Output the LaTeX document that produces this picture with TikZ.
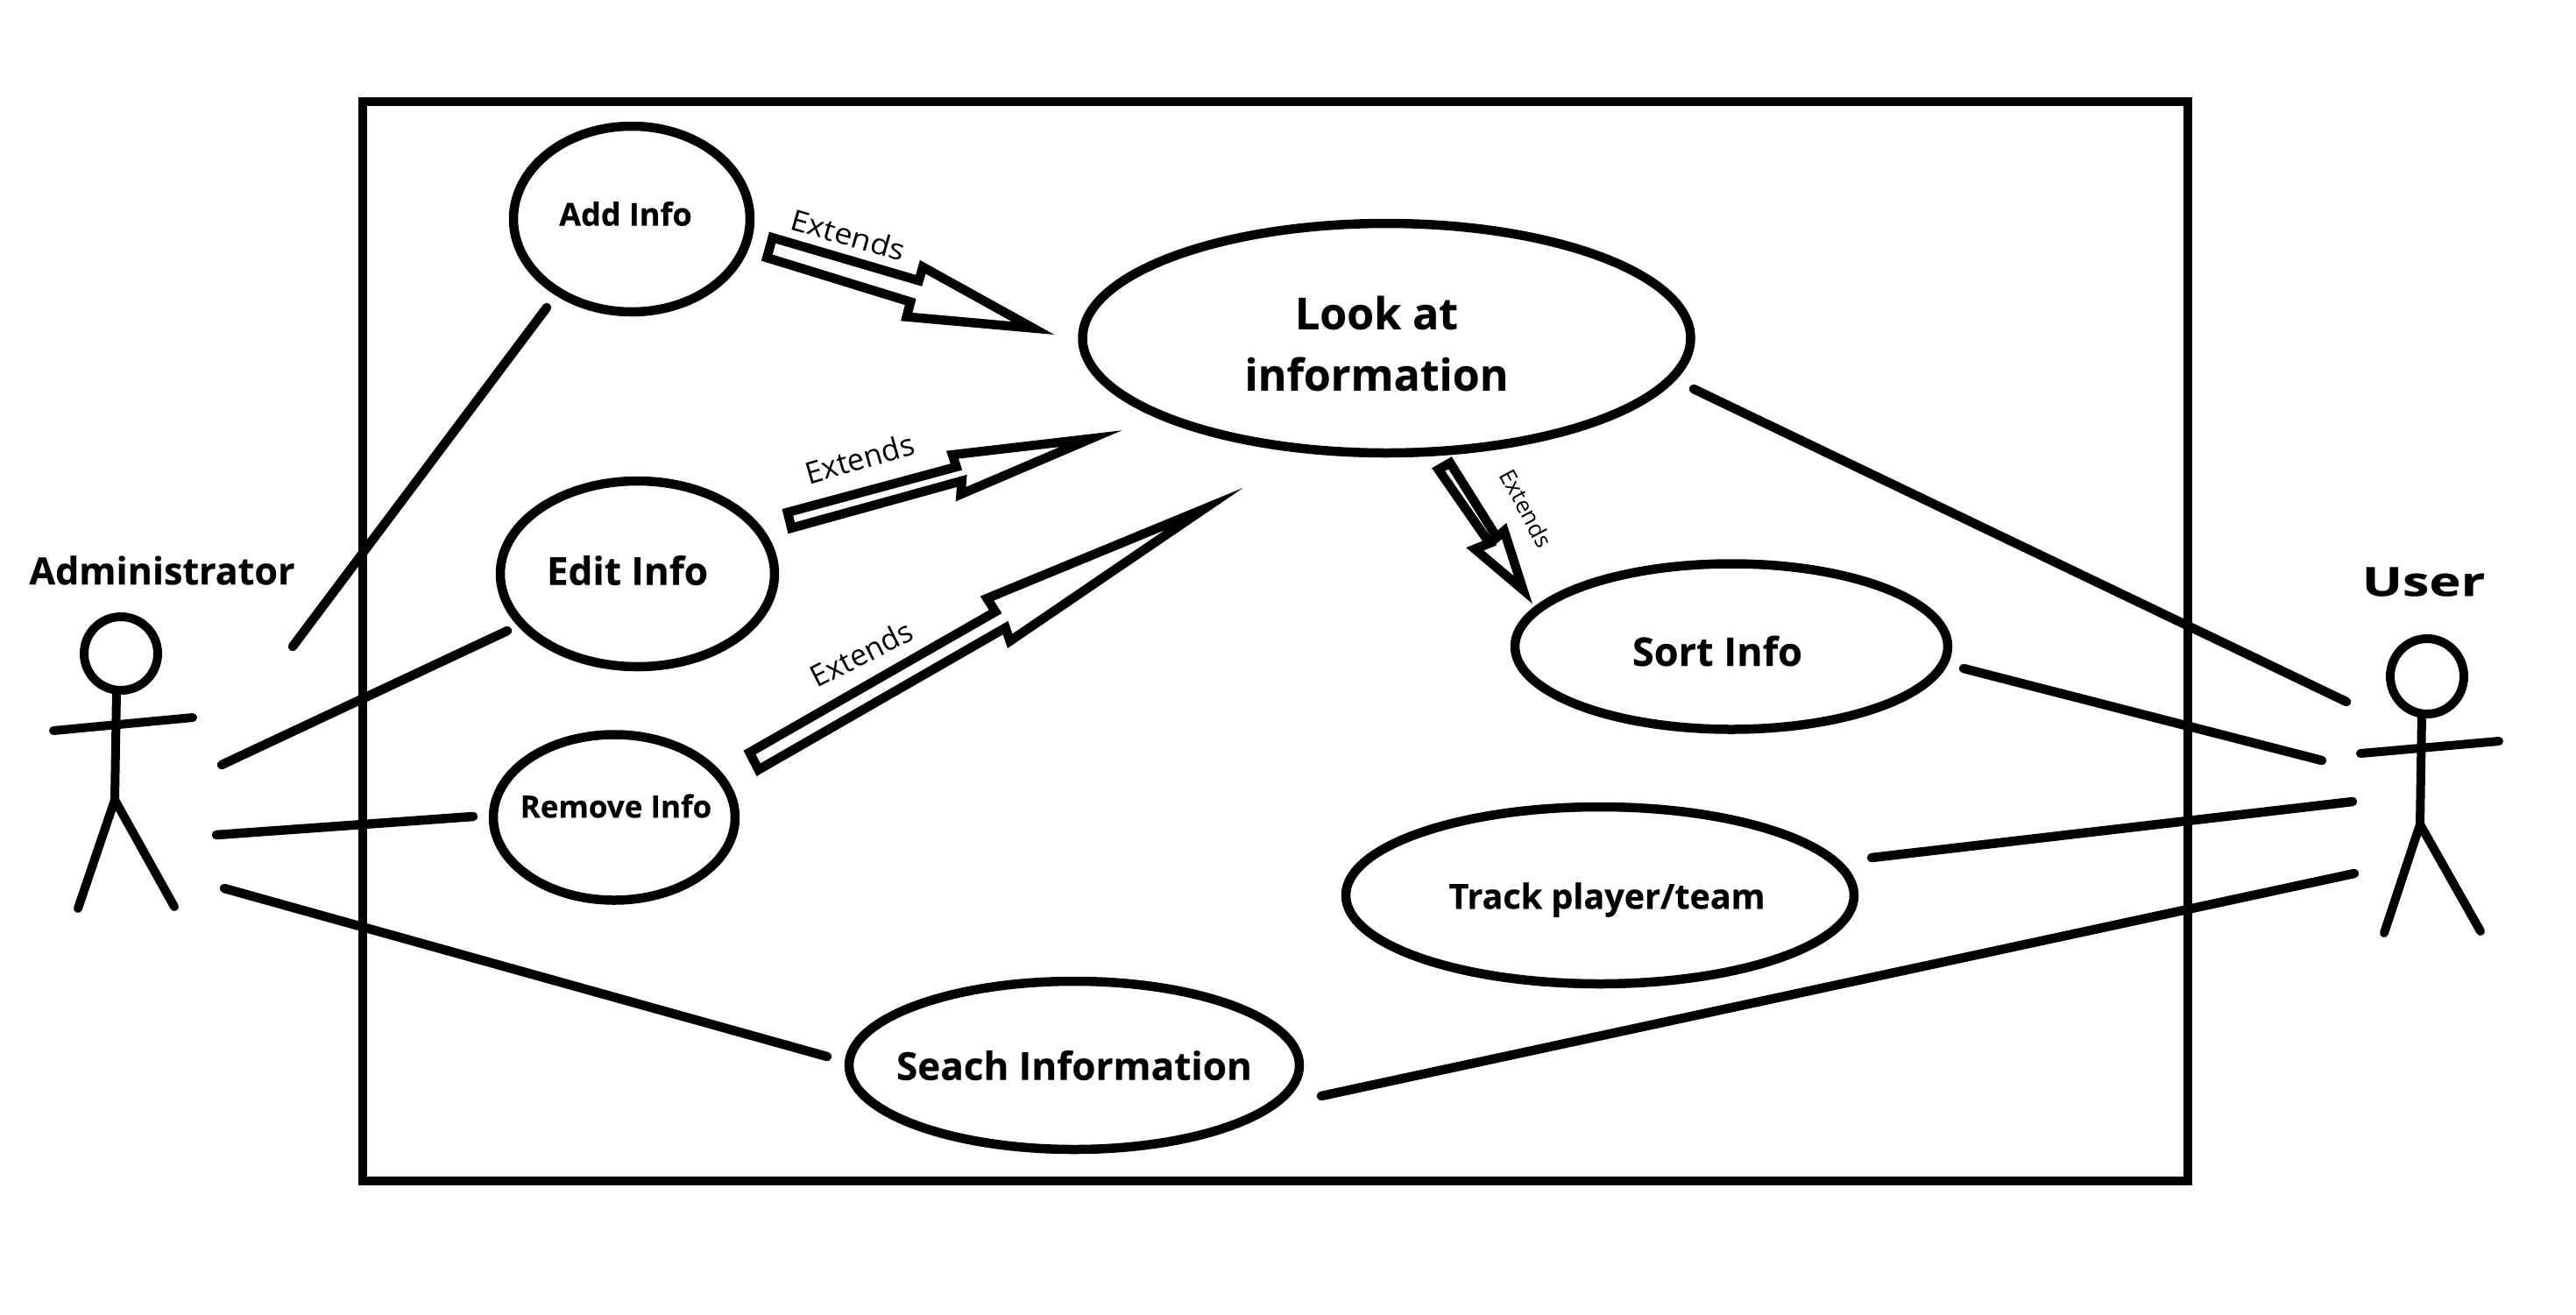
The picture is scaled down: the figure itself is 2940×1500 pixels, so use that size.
\documentclass[tikz,border=0pt]{standalone}
\usepackage{fontspec}
\usepackage{graphicx}
\setmainfont[BoldFeatures={FakeBold=0.35}]{Open Sans}
\usetikzlibrary{shapes.geometric}
\tikzset{
  x=1pt,y=-1pt,
  usecase/.style={draw=black,line width=10.5pt,ellipse,inner sep=0pt,fill=white},
  assoc/.style={draw=black,line width=10.5pt,line cap=round},
  limb/.style={draw=black,line width=10pt,line cap=round},
  blockarrow/.style={draw=black,line width=10.5pt,fill=white,line join=miter,miter limit=20},
  frame/.style={draw=black,line width=10pt},
  lbl/.style={inner sep=0pt,font=\bfseries\fontsize{#1}{#1}\selectfont,align=center},
  ext/.style={inner sep=0pt,font=\fontsize{#1}{#1}\selectfont}
}
\begin{document}
\begin{tikzpicture}
\useasboundingbox (0,0) rectangle (2940,1500);
\fill[white] (0,0) rectangle (2940,1500);
\draw[frame] (414,116) rectangle (2497,1348);
% use cases
\node[usecase,minimum width=270pt,minimum height=212pt] (add) at (721,250) {};
\node[usecase,minimum width=313pt,minimum height=212pt] (edit) at (727.5,655) {};
\node[usecase,minimum width=276pt,minimum height=189pt] (remove) at (701,933) {};
\node[usecase,minimum width=694pt,minimum height=262pt] (look) at (1582.5,386) {};
\node[usecase,minimum width=494pt,minimum height=189pt] (sort) at (1976,738) {};
\node[usecase,minimum width=580pt,minimum height=202pt] (track) at (1826,1022) {};
\node[usecase,minimum width=514pt,minimum height=192pt] (search) at (1226,1216) {};
% texts
\node[lbl=36] (tadd) at (714,244) {Add Info};
\node[lbl=44] (tedit) at (716,651) {Edit Info};
\node[lbl=35] (tremove) at (703,920) {Remove Info};
\node[lbl=50] (tlook) at (1571,392) {Look at\\[20pt]information};
\node[lbl=45] (tsort) at (1960,743) {Sort Info};
\node[lbl=39.5] (ttrack) at (1834,1027) {Track player/team};
\node[lbl=44] (tsearch) at (1226,1216) {Seach Information};
\node[lbl=43] (tadmin) at (185,651) {Administrator};
\node[lbl=46] (tuser) at (2766,664) {\scalebox{1.33}[1]{User}};
% extends arrows
\draw[blockarrow] (881.6,271.2) -- (1048.7,320.3) -- (1053.2,304.7) -- (1179,374.5) -- (1034.7,361.6) -- (1039.2,344.6) -- (875.3,294.1) -- cycle;
\draw[blockarrow] (898.9,584.8) -- (1091.5,532.9) -- (1087,519.1) -- (1245,500.7) -- (1096.6,564.1) -- (1097.8,548.9) -- (903.3,602.7) -- cycle;
\draw[blockarrow] (855.5,858.9) -- (1136.1,698.2) -- (1126.5,683) -- (1374,581) -- (1152.7,731.7) -- (1147.6,716.5) -- (865.7,878.6) -- cycle;
\draw[blockarrow] (1655,528.3) -- (1708.3,613.3) -- (1716.7,606) -- (1738.3,673.3) -- (1683.3,626.7) -- (1700,620) -- (1641.7,536) -- cycle;
\node[ext=33,rotate=-16] (e1) at (968,268) {\scalebox{1.1}[1]{Extends}};
\node[ext=34.5,rotate=16] (e2) at (981,523) {Extends};
\node[ext=34,rotate=27] (e3) at (983,746) {Extends};
\node[ext=26,rotate=-62] (e4) at (1742,580) {Extends};
% actors
\node[draw=black,line width=10pt,ellipse,inner sep=0pt,minimum width=84pt,minimum height=84pt] (headA) at (138,746) {};
\coordinate (hipA) at (131,913);
\coordinate (armAl) at (61,834);
\coordinate (armAr) at (220,819);
\coordinate (legAl) at (89,1037);
\coordinate (legAr) at (199,1035);
\draw[limb] (133,790) -- (hipA);
\draw[limb] (armAl) -- (armAr);
\draw[limb] (legAl) -- (hipA) -- (legAr);
\node[draw=black,line width=10pt,ellipse,inner sep=0pt,minimum width=84pt,minimum height=86pt] (headU) at (2770,772) {};
\coordinate (hipU) at (2762,941);
\coordinate (armUl) at (2694,860);
\coordinate (armUr) at (2852,846);
\coordinate (legUl) at (2721,1065);
\coordinate (legUr) at (2831,1063);
\draw[limb] (2764,816) -- (hipU);
\draw[limb] (armUl) -- (armUr);
\draw[limb] (legUl) -- (hipU) -- (legUr);
% associations (free ends do not touch)
\coordinate (a1) at (334,738);
\coordinate (a1b) at (624,351);
\coordinate (a2) at (253,873);
\coordinate (a2b) at (579,720);
\coordinate (a3) at (247,953);
\coordinate (a3b) at (540,932);
\coordinate (a4) at (256,1014);
\coordinate (a4b) at (944,1206);
\coordinate (u1a) at (1933,444);
\coordinate (u1) at (2678,801);
\coordinate (u2a) at (2241,763);
\coordinate (u2) at (2650,868);
\coordinate (u3a) at (2136,979);
\coordinate (u3) at (2685,915);
\coordinate (u4a) at (1508,1251);
\coordinate (u4) at (2687,997);
\draw[assoc] (a1) -- (a1b);
\draw[assoc] (a2) -- (a2b);
\draw[assoc] (a3) -- (a3b);
\draw[assoc] (a4) -- (a4b);
\draw[assoc] (u1a) -- (u1);
\draw[assoc] (u2a) -- (u2);
\draw[assoc] (u3a) -- (u3);
\draw[assoc] (u4a) -- (u4);
\end{tikzpicture}
\end{document}
